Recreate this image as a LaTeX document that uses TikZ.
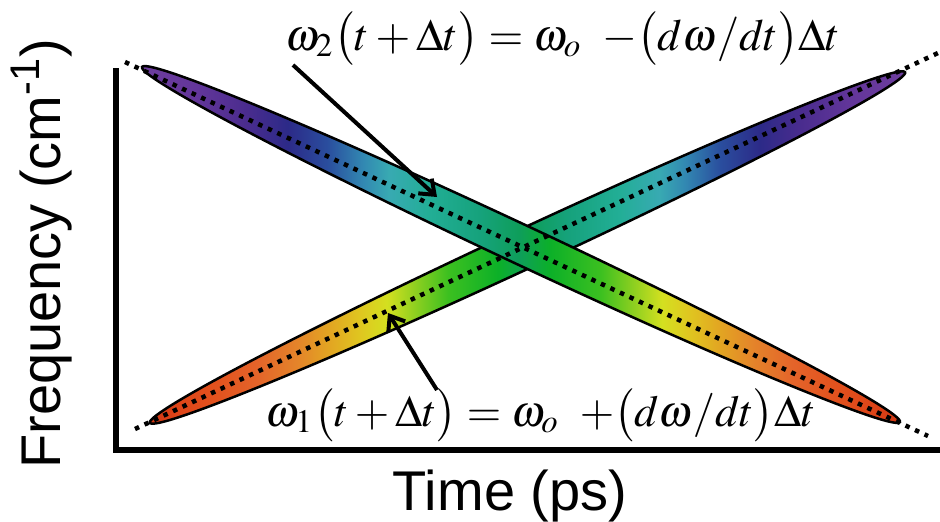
\documentclass[tikz,border=0pt]{standalone}
\usepackage{mathptmx}
\usepackage[no-math]{fontspec}
\setsansfont{Liberation Sans}
\usepackage{graphicx}
\usetikzlibrary{arrows.meta}
\definecolor{g01}{HTML}{6E3E9E}
\definecolor{g02}{HTML}{63369A}
\definecolor{g03}{HTML}{4A2C8E}
\definecolor{g04}{HTML}{2C2A88}
\definecolor{g05}{HTML}{2A4E9E}
\definecolor{g06}{HTML}{3288B2}
\definecolor{g07}{HTML}{38AAB2}
\definecolor{g08}{HTML}{22AE96}
\definecolor{g09}{HTML}{16A27C}
\definecolor{g10}{HTML}{0E9E5A}
\definecolor{g11}{HTML}{0CB028}
\definecolor{g12}{HTML}{3CC020}
\definecolor{g13}{HTML}{90D020}
\definecolor{g14}{HTML}{D4E020}
\definecolor{g15}{HTML}{E0C420}
\definecolor{g16}{HTML}{E2A622}
\definecolor{g17}{HTML}{E4842A}
\definecolor{g18}{HTML}{E4642A}
\definecolor{g19}{HTML}{E2521E}
\definecolor{g20}{HTML}{DE4418}
\definecolor{g21}{HTML}{CE3412}
\pgfdeclarehorizontalshading{descgrad}{100bp}{color(0bp)=(g01); color(25bp)=(g01); color(28.8bp)=(g02); color(32.1bp)=(g03); color(34.8bp)=(g04); color(37.4bp)=(g05); color(39.7bp)=(g06); color(41.4bp)=(g07); color(44bp)=(g08); color(47.3bp)=(g09); color(49.9bp)=(g10); color(51.9bp)=(g11); color(55.2bp)=(g12); color(57.4bp)=(g13); color(59.2bp)=(g14); color(61.1bp)=(g15); color(62.9bp)=(g16); color(65.1bp)=(g17); color(67.7bp)=(g18); color(70.4bp)=(g19); color(73bp)=(g20); color(75bp)=(g21); color(100bp)=(g21)}
\pgfdeclarehorizontalshading{ascgrad}{100bp}{color(0bp)=(g21); color(25bp)=(g21); color(27bp)=(g20); color(29.6bp)=(g19); color(32.3bp)=(g18); color(34.9bp)=(g17); color(37.1bp)=(g16); color(38.9bp)=(g15); color(40.8bp)=(g14); color(42.6bp)=(g13); color(44.8bp)=(g12); color(48.1bp)=(g11); color(50.1bp)=(g10); color(52.7bp)=(g09); color(56bp)=(g08); color(58.6bp)=(g07); color(60.3bp)=(g06); color(62.6bp)=(g05); color(65.2bp)=(g04); color(67.9bp)=(g03); color(71.2bp)=(g02); color(75bp)=(g01); color(100bp)=(g01)}
\tikzset{
  band/.style={draw=black, line width=2.5pt},
  guide/.style={line width=4.5pt, dash pattern=on 4.5pt off 6pt},
  axisline/.style={line width=6pt},
  pointer/.style={line width=4pt, -{Straight Barb[length=13pt,width=20pt,line width=4pt]}},
  axlabel/.style={font=\sffamily\fontsize{56}{60}\selectfont}
}
\begin{document}
\begin{tikzpicture}[x=1pt,y=-1pt]
\useasboundingbox (0,0) rectangle (940,522);
% axes
\draw[axisline] (116,68) -- (116,450) -- (940,450);
% bands
\shadedraw[shading=ascgrad, band] (527.5,247.5) ellipse [x radius=416.3, y radius=19.5, rotate=24.9];
\shadedraw[shading=descgrad, band] (521,244.5) ellipse [x radius=418.5, y radius=19.5, rotate=-25.1];
% dotted guides
\coordinate (d1) at (125,62);
\coordinate (d2) at (928,436);
\coordinate (a1) at (135,429);
\coordinate (a2) at (938,53);
\draw[guide] (d1) -- (d2);
\draw[guide] (a1) -- (a2);
% labels
\node[axlabel, rotate=90, anchor=base] (ylab) at (60,254) {Frequency (cm\textsuperscript{-1})};
\node[axlabel, anchor=base] (xlab) at (510,510) {Time (ps)};
\node[anchor=base west, inner sep=0pt] (eqtop) at (285,50) {\resizebox{555pt}{!}{$\omega_2\bigl(t+\Delta t\bigr) = \omega_o\;\;{-}\bigl(d\omega/dt\bigr)\Delta t$}};
\node[anchor=base west, inner sep=0pt] (eqbot) at (265,426) {\resizebox{550pt}{!}{$\omega_1\bigl(t+\Delta t\bigr) = \omega_o\;\;{+}\bigl(d\omega/dt\bigr)\Delta t$}};
% pointers
\coordinate (p1s) at (293,65);
\coordinate (p1e) at (437,197);
\coordinate (p2s) at (437,390);
\coordinate (p2e) at (388,313);
\draw[pointer] (p1s) -- (p1e);
\draw[pointer] (p2s) -- (p2e);
\end{tikzpicture}
\end{document}
